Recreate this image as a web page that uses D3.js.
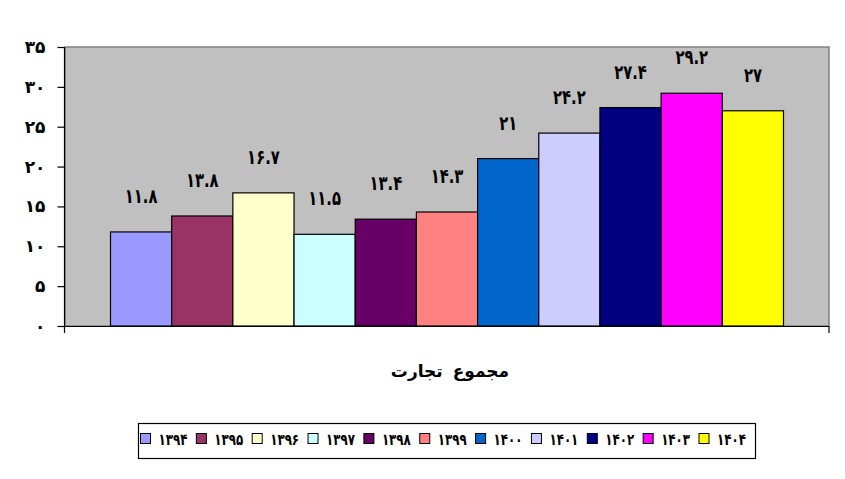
<!DOCTYPE html>
<html>
<head>
<meta charset="utf-8">
<script src="https://cdn.jsdelivr.net/npm/d3@7"></script>
<style>
  body { margin: 0; background: #fff; }
  svg { display: block; font-family: "DejaVu Sans", sans-serif; }
</style>
</head>
<body>
<svg id="chart" width="845" height="479"></svg>
<script>
'use strict';

// data
const years = ['1394', '1395', '1396', '1397', '1398', '1399', '1400', '1401', '1402', '1403', '1404'];
const values = [11.8, 13.8, 16.7, 11.5, 13.4, 14.3, 21, 24.2, 27.4, 29.2, 27];
const colors = ['#9999FF', '#993366', '#FFFFCC', '#CCFFFF', '#660066', '#FF8080',
                '#0066CC', '#CCCCFF', '#000080', '#FF00FF', '#FFFF00'];
const yTicks = [0, 5, 10, 15, 20, 25, 30, 35];
const category = 'مجموع تجارت';

// latin digits -> persian digits
function fa(s)
{
    return String(s).replace(/[0-9]/g, (d) => String.fromCharCode(0x06F0 + (+d)));
}

const svg = d3.select('#chart');

const plot = { left: 65, top: 47, right: 829, bottom: 326 };

const y = d3.scaleLinear().domain([0, 35]).range([plot.bottom, plot.top]);
const x = d3.scaleBand().domain(years)
    .range([plot.left + 45.5, plot.right - 45.5])
    .padding(0);

// plot background
svg.append('rect')
    .attr('x', plot.left)
    .attr('y', plot.top)
    .attr('width', plot.right - plot.left)
    .attr('height', plot.bottom - plot.top)
    .attr('fill', '#C0C0C0')
    .attr('stroke', '#808080')
    .attr('stroke-width', 1.5);

// bars
svg.append('g').selectAll('rect').data(values).enter().append('rect')
    .attr('x', (d, i) => x(years[i]))
    .attr('y', (d) => y(d))
    .attr('width', x.bandwidth())
    .attr('height', (d) => y(0) - y(d))
    .attr('fill', (d, i) => colors[i])
    .attr('stroke', 'black')
    .attr('stroke-width', 1.2);

// value labels (squeezed horizontally, the persian digits run wide in DejaVu)
svg.append('g').selectAll('text').data(values).enter().append('text')
    .attr('transform', (d, i) => 'translate(' + (x(years[i]) + x.bandwidth() / 2) + ',' + (y(d) - 29) + ') scale(0.74,1)')
    .attr('text-anchor', 'middle')
    .attr('font-size', 20)
    .attr('font-weight', 'bold')
    .attr('fill', 'black')
    .text((d) => fa(d));

// y axis
const yAxis = svg.append('g')
    .attr('transform', 'translate(' + (plot.left - 0.5) + ',0)')
    .call(d3.axisLeft(y).tickValues(yTicks).tickSize(7).tickPadding(12).tickFormat((d) => fa(d)));
yAxis.select('.domain').attr('stroke', 'black').attr('stroke-width', 1.2)
    .attr('d', 'M0,' + plot.top + 'V' + (plot.bottom + 7));
yAxis.selectAll('.tick line').attr('stroke', 'black').attr('stroke-width', 1.2);
yAxis.selectAll('.tick text')
    .attr('font-family', '"DejaVu Sans", sans-serif')
    .attr('font-size', 17)
    .attr('font-weight', 'bold')
    .attr('fill', 'black');

// x axis (single category)
svg.append('line')
    .attr('x1', plot.left - 0.5).attr('x2', plot.right)
    .attr('y1', plot.bottom + 0.5).attr('y2', plot.bottom + 0.5)
    .attr('stroke', 'black').attr('stroke-width', 1.2);
svg.append('line')
    .attr('x1', plot.right).attr('x2', plot.right)
    .attr('y1', plot.bottom).attr('y2', plot.bottom + 7)
    .attr('stroke', 'black').attr('stroke-width', 1.2);

svg.append('text')
    .attr('x', 450)
    .attr('y', 377)
    .attr('text-anchor', 'middle')
    .attr('font-size', 17)
    .attr('font-weight', 'bold')
    .attr('word-spacing', 4)
    .attr('fill', 'black')
    .text(category);

// legend
const legend = svg.append('g');
legend.append('rect')
    .attr('x', 138.5).attr('y', 423.5)
    .attr('width', 617).attr('height', 35)
    .attr('fill', 'white')
    .attr('stroke', 'black')
    .attr('stroke-width', 1.2);

const lx = d3.scalePoint().domain(years).range([140.5, 699]);
const items = legend.selectAll('g.item').data(years).enter().append('g')
    .attr('class', 'item')
    .attr('transform', (d) => 'translate(' + lx(d) + ',433.5)');
items.append('rect')
    .attr('width', 10).attr('height', 10)
    .attr('fill', (d, i) => colors[i])
    .attr('stroke', 'black')
    .attr('stroke-width', 1);
items.append('text')
    .attr('transform', 'translate(18,11.5) scale(0.74,1)')
    .attr('font-size', 16)
    .attr('font-weight', 'bold')
    .attr('fill', 'black')
    .text((d) => fa(d));
</script>
</body>
</html>
